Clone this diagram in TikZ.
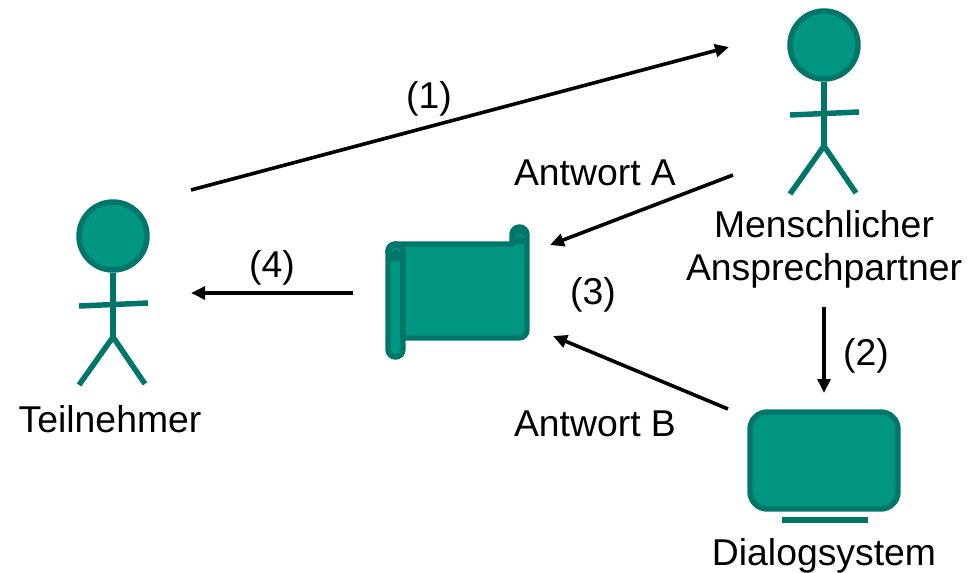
\documentclass[tikz,border=0pt]{standalone}
\usepackage{fontspec}
\usepackage{xcolor}
\usepackage{tikz}
\usetikzlibrary{arrows.meta}
\setmainfont{Liberation Sans}

\definecolor{tealfill}{HTML}{009681}
\definecolor{tealline}{HTML}{00766A}

\tikzset{
  label text/.style={anchor=base,inner sep=0pt,font=\fontsize{28pt}{32pt}\selectfont},
  shape line/.style={draw=tealline,fill=tealfill,line width=4.1pt},
  stick/.style={draw=tealline,line width=4.1pt},
  curl/.style={draw=tealfill,line width=1.2pt},
  flow/.style={black,line width=2.7pt,-{Triangle[length=10.5pt,width=9.5pt]}},
  pics/person/.style={code={
    \node[circle,shape line,minimum size=51pt,inner sep=0pt] (-head) at (0,0) {};
    \coordinate (-hip) at (0,101);
    \draw[stick] (-head.south) -- (-hip);
    \draw[stick] (-34,70) -- (35,67);
    \draw[stick] (-34,149) -- (-hip) -- (32,148);
  }}
}

\begin{document}
\begin{tikzpicture}[x=0.75pt,y=-0.75pt]

\useasboundingbox (0,0) rectangle (978,572);

% persons
\pic (partner) at (824,45) {person};
\pic (teilnehmer) at (113,236) {person};

% scroll
\draw[shape line,line join=round] (395.5,244) -- (512,244) -- (512,234.5)
  arc[start angle=180,end angle=360,radius=7.5] -- (527,330)
  arc[start angle=0,end angle=90,radius=8] -- (403,338) -- (403,349.5)
  arc[start angle=0,end angle=180,radius=7.5] -- (388,251.5)
  arc[start angle=180,end angle=270,radius=7.5] -- cycle;
\draw[stick] (403,251.5) -- (403,338);
\draw[stick,fill=tealline] (395.5,251.5) circle[radius=7.5];
\draw[curl] (392,252) arc[start angle=180,end angle=360,radius=3.5];
\fill[tealline] (512,244) -- (512,234.5) arc[start angle=180,end angle=360,radius=7.5] -- (527,244) -- cycle;
\draw[curl] (516,238) arc[start angle=180,end angle=360,radius=3.5];

% monitor
\node[shape line,rounded corners=13pt,minimum width=111pt,minimum height=72.75pt,inner sep=0pt] (monitor) at (824,460.5) {};
\node[fill=tealline,minimum width=64.5pt,minimum height=4.5pt,inner sep=0pt] (stand) at (825,520) {};

% labels
\node[label text] (tn) at (110,432) {Teilnehmer};
\node[label text] (mensch) at (824,237) {Menschlicher};
\node[label text] (ansprech) at (824,280) {Ansprechpartner};
\node[label text] (dialog) at (824,565) {Dialogsystem};
\node[label text] (a) at (595,185) {Antwort A};
\node[label text] (b) at (595,436) {Antwort B};
\node[label text] (s1) at (429,108) {(1)};
\node[label text] (s2) at (866,365) {(2)};
\node[label text] (s3) at (593,304) {(3)};
\node[label text] (s4) at (272,277) {(4)};

% connector ends
\coordinate (c1) at (191,190);
\coordinate (c2) at (729,47);
\coordinate (c3) at (733,175);
\coordinate (c4) at (550,245);
\coordinate (c5) at (353,293);
\coordinate (c6) at (191,293);
\coordinate (c7) at (824,307);
\coordinate (c8) at (824,393);
\coordinate (c9) at (728,409);
\coordinate (c10) at (553,336);

\draw[flow] (c1) -- (c2);
\draw[flow] (c3) -- (c4);
\draw[flow] (c5) -- (c6);
\draw[flow] (c7) -- (c8);
\draw[flow] (c9) -- (c10);

\end{tikzpicture}
\end{document}
